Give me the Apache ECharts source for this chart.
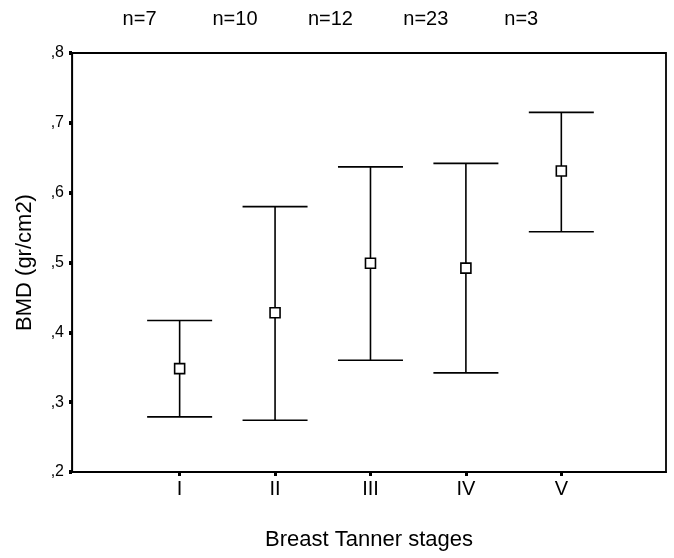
<!DOCTYPE html>
<html>
<head>
<meta charset="utf-8">
<script src="https://cdn.jsdelivr.net/npm/echarts@6/dist/echarts.min.js"></script>
<style>html,body{margin:0;padding:0;background:#fff}#c{width:674px;height:558px}</style>
</head>
<body>
<div id="c"></div>
<script>
const categories = ['I', 'II', 'III', 'IV', 'V'];
const nLabels = ['n=7', 'n=10', 'n=12', 'n=23', 'n=3'];
const means = [0.348, 0.428, 0.499, 0.492, 0.631];
const upper = [0.417, 0.580, 0.637, 0.642, 0.715];
const lower = [0.279, 0.274, 0.360, 0.342, 0.544];
const yTicks = [0.2, 0.3, 0.4, 0.5, 0.6, 0.7, 0.8];
const catPos = categories.map((c, i) => i + 1);

const FONT = '"Liberation Sans", Arial, sans-serif';
const chart = echarts.init(document.getElementById('c'));

const data = categories.map((c, i) => [i + 1, lower[i], upper[i], means[i]]);

chart.setOption({
  animation: false,
  backgroundColor: '#fff',
  grid: { left: 72, right: 8, top: 53, bottom: 86, show: true, borderColor: '#000', borderWidth: 1.8, containLabel: false, outerBoundsMode: 'none' },
  xAxis: [{
    type: 'value', min: -0.128, max: 6.097, position: 'bottom',
    splitLine: { show: false },
    axisLine: { show: true, onZero: false, lineStyle: { color: '#000', width: 1.8 } },
    axisTick: { show: true, customValues: catPos, length: 4, lineStyle: { color: '#000', width: 3 } },
    axisLabel: { customValues: catPos, formatter: v => categories[Math.round(v) - 1], color: '#000', fontFamily: FONT, fontSize: 20, margin: 7 },
    name: 'Breast Tanner stages', nameLocation: 'middle', nameGap: 57,
    nameTextStyle: { color: '#000', fontFamily: FONT, fontSize: 22 }
  }, {
    type: 'value', min: -0.128 + 0.42, max: 6.097 + 0.42, position: 'top',
    splitLine: { show: false }, axisLine: { show: false }, axisTick: { show: false },
    axisLabel: { customValues: catPos, formatter: v => nLabels[Math.round(v) - 1], color: '#000', fontFamily: FONT, fontSize: 20, margin: 24 }
  }],
  yAxis: {
    type: 'value', min: 0.2, max: 0.8, interval: 0.1,
    splitLine: { show: false },
    axisLine: { show: true, onZero: false, lineStyle: { color: '#000', width: 1.2 } },
    axisTick: { show: true, customValues: yTicks, length: 3, lineStyle: { color: '#000', width: 4 } },
    axisLabel: { customValues: yTicks, formatter: v => ',' + Math.round(v * 10), color: '#000', fontFamily: FONT, fontSize: 16, margin: 8 },
    name: 'BMD (gr/cm2)', nameLocation: 'middle', nameGap: 36, nameRotate: 90,
    nameTextStyle: { color: '#000', fontFamily: FONT, fontSize: 22 }
  },
  series: [{
    type: 'custom',
    xAxisIndex: 0,
    data: data,
    encode: { x: 0, y: [1, 2, 3] },
    renderItem: function (params, api) {
      const x = api.value(0);
      const lo = api.coord([x, api.value(1)]);
      const hi = api.coord([x, api.value(2)]);
      const mid = api.coord([x, api.value(3)]);
      const hw = 32.5, s = 5;
      const st = { stroke: '#000', lineWidth: 1.6, fill: null };
      return {
        type: 'group',
        children: [
          { type: 'line', shape: { x1: hi[0], y1: hi[1], x2: lo[0], y2: lo[1] }, style: st },
          { type: 'line', shape: { x1: hi[0] - hw, y1: hi[1], x2: hi[0] + hw, y2: hi[1] }, style: st },
          { type: 'line', shape: { x1: lo[0] - hw, y1: lo[1], x2: lo[0] + hw, y2: lo[1] }, style: st },
          { type: 'rect', shape: { x: mid[0] - s, y: mid[1] - s, width: 2 * s, height: 2 * s }, style: { stroke: '#000', lineWidth: 1.6, fill: '#fff' } }
        ]
      };
    }
  }]
});
</script>
</body>
</html>
